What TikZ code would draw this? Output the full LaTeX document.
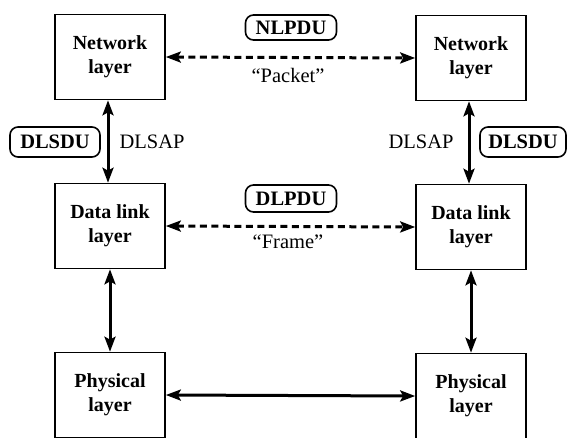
\documentclass[tikz,border=0pt]{standalone}
\usepackage{fontspec}
\setmainfont{Liberation Serif}
\usetikzlibrary{arrows.meta}
\begin{document}
\begin{tikzpicture}[x=1pt,y=-1pt,
  layerbox/.style={draw,line width=1.6pt,minimum width=110pt,minimum height=85pt,
    align=center,font=\fontsize{20}{24}\selectfont\bfseries,inner sep=0pt},
  pdubox/.style={draw,line width=1.6pt,rounded corners=8pt,inner sep=0pt,
    font=\fontsize{20.5}{24}\selectfont\bfseries},
  plain/.style={font=\fontsize{20.5}{24}\selectfont,inner sep=0pt},
  both/.style={line width=3pt,{Stealth[length=15pt,width=11pt,inset=3pt]}-{Stealth[length=15pt,width=11pt,inset=3pt]}},
  peer/.style={both,dash pattern=on 7pt off 4.5pt}]
\useasboundingbox (0,0) rectangle (567,437);

% layer boxes, left stack and right stack
\node[layerbox] (net1) at (110,57) {Network\\layer};
\node[layerbox] (dl1)  at (110,226) {Data link\\layer};
\node[layerbox] (ph1)  at (110,395) {Physical\\layer};
\node[layerbox] (net2) at (471,58) {Network\\layer};
\node[layerbox] (dl2)  at (471,227) {Data link\\layer};
\node[layerbox] (ph2)  at (471,396) {Physical\\layer};

% peer-to-peer exchanges
\draw[peer] (net1.east) -- (net2.west);
\draw[peer] (dl1.east) -- (dl2.west);
\draw[both] (ph1.east) -- (ph2.west);

% service access between layers
\draw[both] ([xshift=-2pt]net1.south) -- ([xshift=-2pt]dl1.north);
\draw[both] (dl1.south) -- (ph1.north);
\draw[both] ([xshift=-2pt]net2.south) -- ([xshift=-2pt]dl2.north);
\draw[both] (dl2.south) -- (ph2.north);

% data unit labels
\node[pdubox,minimum width=91pt,minimum height=25pt] (nlpdu) at (291,27.5) {NLPDU};
\node[pdubox,minimum width=91pt,minimum height=27pt] (dlpdu) at (291,198.5) {DLPDU};
\node[pdubox,minimum width=90pt,minimum height=30pt] (dlsdu1) at (55,142) {DLSDU};
\node[pdubox,minimum width=86pt,minimum height=30pt] (dlsdu2) at (523,142) {DLSDU};

\node[plain] (packet) at (288,75) {“Packet”};
\node[plain] (frame)  at (288,242) {“Frame”};
\node[plain] (sap1) at (152,142) {DLSAP};
\node[plain] (sap2) at (421,142) {DLSAP};
\end{tikzpicture}
\end{document}
